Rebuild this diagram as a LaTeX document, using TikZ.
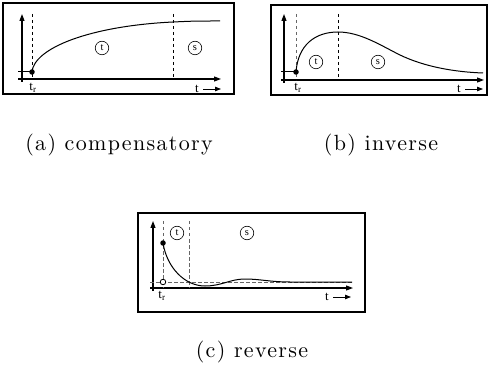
\documentclass[tikz,border=0pt]{standalone}
\usepackage{fontspec}
\newfontfamily\lab{Liberation Serif}
\newfontfamily\capfont[LetterSpace=6]{lmroman10-regular.otf}
\usetikzlibrary{arrows.meta}
\tikzset{
 frame/.style={line width=2.6pt},
 axis/.style={line width=1.1pt,-{Triangle[length=7pt,width=5pt]}},
 tarrow/.style={line width=0.8pt,-{Triangle[length=6pt,width=4.5pt]}},
 guide/.style={dash pattern=on 3.5pt off 2.5pt, line width=0.8pt},
 gguide/.style={dash pattern=on 3.5pt off 2.5pt, line width=0.9pt, black!60},
 curve/.style={line width=1pt},
 zone/.style={circle,draw,line width=0.6pt,minimum size=13.5pt,inner sep=0pt,font=\lab\fontsize{10.5}{10.5}\selectfont},
 lbl/.style={font=\lab\fontsize{13}{13}\selectfont, inner sep=0pt},
 captext/.style={font=\capfont\fontsize{22}{26}\selectfont, inner sep=0pt},
 dot/.style={circle,fill,inner sep=0pt,minimum size=5.5pt},
 odot/.style={circle,draw,fill=white,inner sep=0pt,minimum size=5.5pt,line width=0.8pt},
}
\begin{document}
\begin{tikzpicture}[x=1pt,y=-1pt]
\useasboundingbox (0,0) rectangle (492,371);
% ---------------- panel a
\draw[frame] (3,3) rectangle (234,94);
\coordinate (ay0) at (22,82); \coordinate (ay1) at (22,14);
\coordinate (ax0) at (18,79); \coordinate (ax1) at (221,79);
\draw[axis] (ay0) -- (ay1);
\draw[axis] (ax0) -- (ax1);
\coordinate (ad1a) at (32,14); \coordinate (ad1b) at (32,79);
\coordinate (ad2a) at (173,14); \coordinate (ad2b) at (173,79);
\draw[guide] (ad1a) -- (ad1b);
\draw[guide] (ad2a) -- (ad2b);
\coordinate (ah0) at (18,72);
\node[dot] (ap) at (32,72) {};
\coordinate (aend) at (220,21);
\draw[curve] (ah0) -- (ap.center);
\draw[curve] (ap.center) .. controls (34,48) and (90,26) .. (173,22) .. controls (195,21) .. (aend);
\node[zone] (at) at (102,48) {t};
\node[zone] (as) at (195,48) {s};
\node[lbl] (atr) at (33,88) {t\textsubscript{r}};
\node[lbl] (att) at (197,89) {t};
\coordinate (ate) at (221,89);
\draw[tarrow] ([xshift=4pt]att.east) -- (ate);
\node[captext] (acap) at (119,145) {(a) compensatory};
% ---------------- panel b
\draw[frame] (271,5) rectangle (487,95);
\coordinate (by0) at (284,83); \coordinate (by1) at (284,14);
\coordinate (bx0) at (281,80); \coordinate (bx1) at (484,80);
\draw[axis] (by0) -- (by1);
\draw[axis] (bx0) -- (bx1);
\coordinate (bd1a) at (296,14); \coordinate (bd1b) at (296,80);
\coordinate (bd2a) at (338,14); \coordinate (bd2b) at (338,80);
\draw[gguide] (bd1a) -- (bd1b);
\draw[guide] (bd2a) -- (bd2b);
\coordinate (bh0) at (281,72);
\node[dot] (bp) at (296,72) {};
\coordinate (bend) at (483,73);
\draw[curve] (bh0) -- (bp.center);
\draw[curve] (bp.center) .. controls (298,45) and (315,32) .. (338,32)
  .. controls (360,32) and (380,45) .. (400,55)
  .. controls (425,67) and (455,72) .. (bend);
\node[zone] (bt) at (316,62) {t};
\node[zone] (bs) at (378,62) {s};
\node[lbl] (btr) at (298,88) {t\textsubscript{r}};
\node[lbl] (btt) at (459,89) {t};
\coordinate (bte) at (483,89);
\draw[tarrow] ([xshift=4pt]btt.east) -- (bte);
\node[captext] (bcap) at (381,145) {(b) inverse};
% ---------------- panel c
\draw[frame] (138,213) rectangle (365,312);
\coordinate (cy0) at (153,291); \coordinate (cy1) at (153,221);
\coordinate (cx0) at (150,288); \coordinate (cx1) at (353,288);
\draw[axis] (cy0) -- (cy1);
\draw[axis] (cx0) -- (cx1);
\coordinate (cd1a) at (163,221); \coordinate (cd1b) at (163,288);
\coordinate (cd2a) at (189,221); \coordinate (cd2b) at (189,288);
\coordinate (ch0) at (150,282); \coordinate (ch1) at (352,282);
\draw[gguide] (cd1a) -- (cd1b);
\draw[gguide] (cd2a) -- (cd2b);
\draw[gguide] (ch0) -- (ch1);
\node[dot] (cp) at (163,243) {};
\coordinate (cend) at (352,282);
\draw[curve] (cp.center) .. controls (167,268) and (185,286) .. (205,286)
  .. controls (222,286) and (230,279) .. (245,279)
  .. controls (260,279) and (270,282) .. (290,282) -- (cend);
\node[odot] (co) at (163,282) {};
\node[zone] (ct) at (177,233) {t};
\node[zone] (cs) at (247,233) {s};
\node[lbl] (ctr) at (162,296) {t\textsubscript{r}};
\node[lbl] (ctt) at (327,297) {t};
\coordinate (cte) at (351,297);
\draw[tarrow] ([xshift=4pt]ctt.east) -- (cte);
\node[captext] (ccap) at (252,352) {(c) reverse};
\end{tikzpicture}
\end{document}
